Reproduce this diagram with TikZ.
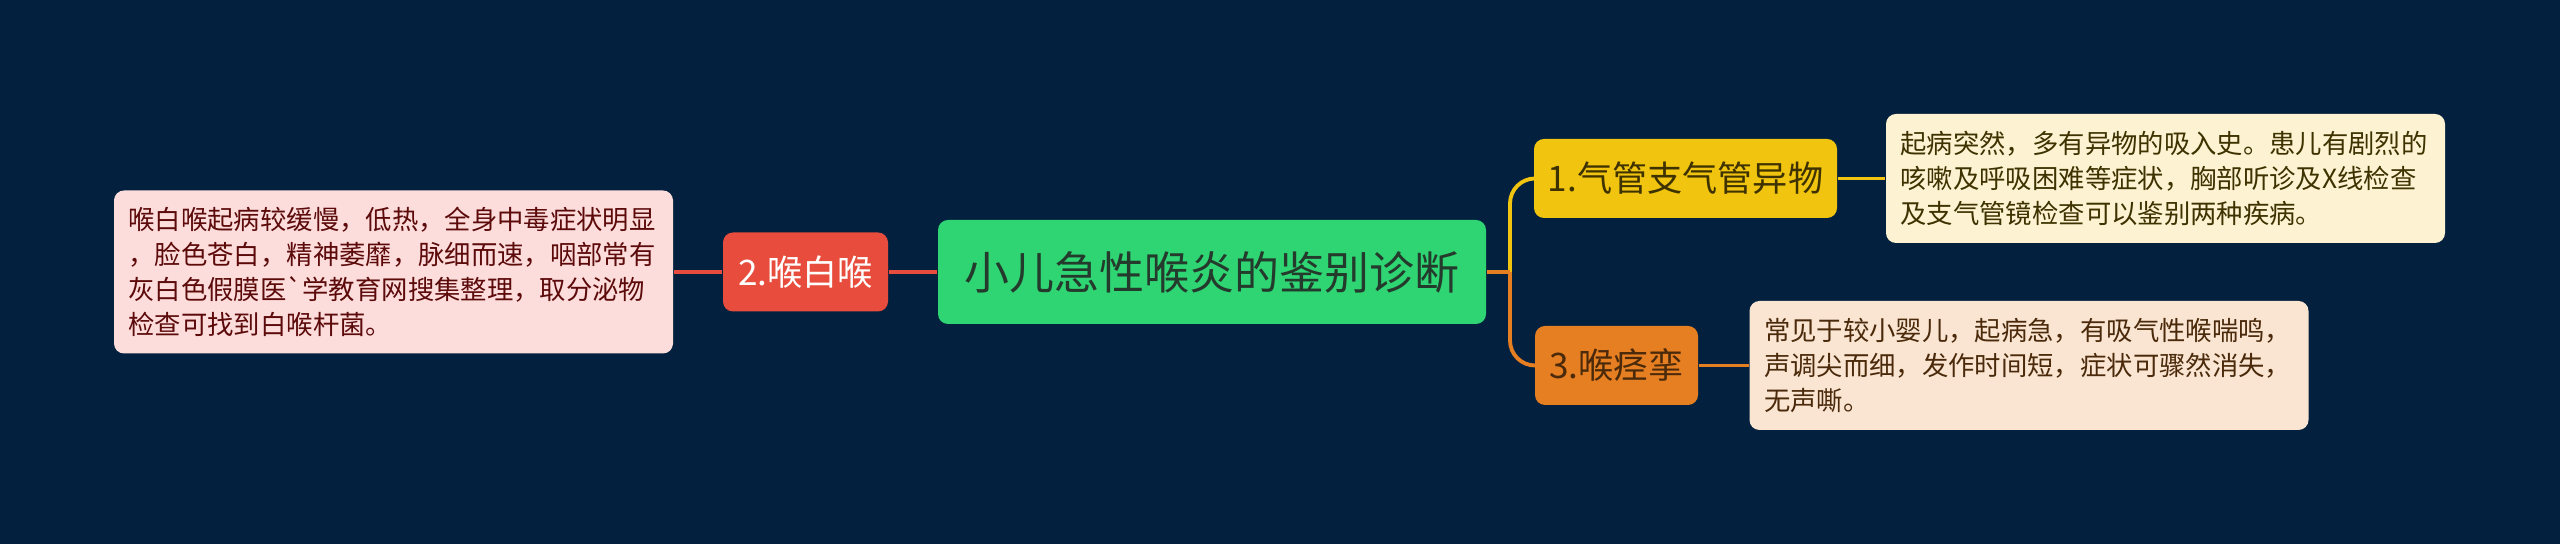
\documentclass[tikz,border=0pt]{standalone}
\usepackage{fontspec}
\newfontfamily\cjk{Noto Sans CJK SC}
\definecolor{bgblue}{HTML}{03213E}
\definecolor{rootgreen}{HTML}{2FD573}
\definecolor{roottext}{HTML}{243A2C}
\definecolor{redc}{HTML}{E74C3C}
\definecolor{redl}{HTML}{FCDDDC}
\definecolor{redt}{HTML}{5C0A0A}
\definecolor{yelc}{HTML}{F1C40F}
\definecolor{yell}{HTML}{FDF3D2}
\definecolor{yelt}{HTML}{3D3200}
\definecolor{orac}{HTML}{E67E22}
\definecolor{oral}{HTML}{FAE5D3}
\definecolor{orat}{HTML}{4A2A0A}
\begin{document}
\begin{tikzpicture}[
    box/.style={rounded corners=0.1cm, inner sep=0pt, align=center},
    root/.style={box, fill=rootgreen, text=roottext, minimum width=5.48cm, minimum height=1.04cm,
        font=\cjk\fontsize{12.8}{15}\selectfont},
    topic/.style={box, minimum height=0.79cm, font=\cjk\fontsize{10}{12}\selectfont},
    note/.style={box, align=left, text width=5.3cm, inner xsep=0.145cm, minimum height=1.29cm,
        font=\cjk\fontsize{7.5}{10}\selectfont},
    link/.style={line width=1.1pt}
  ]
  \fill[bgblue] (0,0) rectangle (25.6,5.44);
  % centre
  \node[root] (root) at (12.12,2.72) {小儿急性喉炎的鉴别诊断};
  \coordinate (fork) at (15.1,2.72);
  % left branch
  \node[topic, fill=redc, text=white, minimum width=1.65cm] (t2) at (8.055,2.72) {2.喉白喉};
  \node[note, fill=redl, text=redt, minimum height=1.63cm] (n2) at (3.935,2.72)
    {喉白喉起病较缓慢，低热，全身中毒症状明显\\，脸色苍白，精神萎靡，脉细而速，咽部常有\\灰白色假膜医\textasciigrave 学教育网搜集整理，取分泌物\\检查可找到白喉杆菌。};
  % right branches
  \node[topic, fill=yelc, text=yelt, minimum width=3.03cm] (t1) at (16.855,3.655) {1.气管支气管异物};
  \node[note, fill=yell, text=yelt] (n1) at (21.655,3.655)
    {起病突然，多有异物的吸入史。患儿有剧烈的\\咳嗽及呼吸困难等症状，胸部听诊及X线检查\\及支气管镜检查可以鉴别两种疾病。};
  \node[topic, fill=orac, text=orat, minimum width=1.63cm] (t3) at (16.165,1.785) {3.喉痉挛};
  \node[note, fill=oral, text=orat] (n3) at (20.29,1.785)
    {常见于较小婴儿，起病急，有吸气性喉喘鸣，\\声调尖而细，发作时间短，症状可骤然消失，\\无声嘶。};
  % connectors
  \draw[link, redc] (n2) -- (t2) -- (root);
  \draw[link, yelc, rounded corners=0.25cm] (fork) |- (t1.west);
  \draw[link, yelc] (t1) -- (n1);
  \draw[link, orac, rounded corners=0.25cm] (fork) |- (t3.west);
  \draw[link, orac] (root) -- (fork);
  \draw[link, orac] (t3) -- (n3);
\end{tikzpicture}
\end{document}
